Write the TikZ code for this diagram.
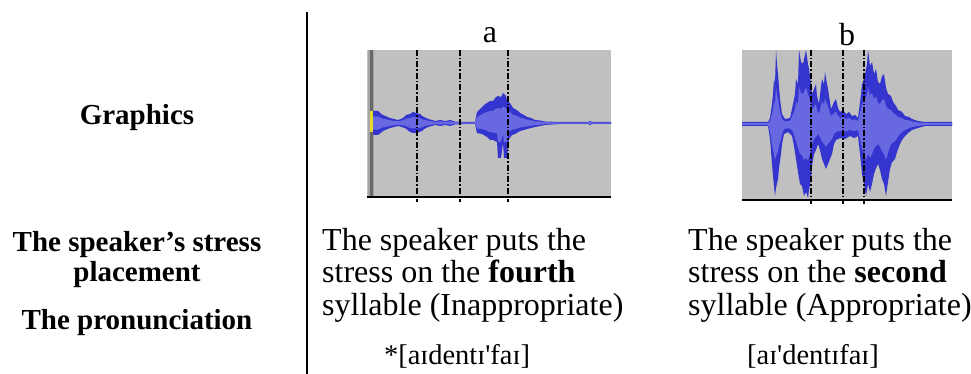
\documentclass[tikz,border=0pt]{standalone}
\usepackage{fontspec}
\setmainfont{Liberation Serif}
\definecolor{wavedark}{RGB}{52,52,206}
\definecolor{wavelight}{RGB}{104,104,224}
\definecolor{panelgray}{RGB}{192,192,192}
\definecolor{bargray}{RGB}{105,105,105}
\definecolor{cursoryellow}{RGB}{230,220,40}
\usetikzlibrary{positioning}

% envelopes, offsets from the centre line of each panel
\newcommand{\waveA}{(373,-12) -- (378,-12) -- (381,-9) -- (383,-8) -- (390,-5) -- (398,-3) -- (403,-5) -- (406,-8) -- (410,-9) -- (413,-11) -- (416,-10) -- (420,-9) -- (422,-7) -- (426,-5) -- (428,-4) -- (432,-3) -- (435,-2) -- (440,-3) -- (445,-2) -- (450,-3) -- (455,-1.5) -- (465,-1) -- (475,-1) -- (477,-11) -- (480,-14) -- (482,-16) -- (485,-19) -- (487,-20) -- (490,-22) -- (493,-22) -- (496,-26) -- (498,-27) -- (501,-26) -- (503,-30) -- (506,-27) -- (507,-22) -- (510,-20) -- (513,-15) -- (515,-14) -- (518,-12) -- (520,-10) -- (524,-8) -- (527,-6) -- (531,-5) -- (535,-3) -- (540,-2.5) -- (545,-1.5) -- (560,-1) -- (588,-1) -- (590,-2) -- (592,-1) -- (611,-1) -- (611,1) -- (592,1) -- (590,2) -- (588,1) -- (560,1) -- (545,2) -- (540,3) -- (535,4) -- (531,5) -- (527,6) -- (524,7) -- (520,8) -- (515,11) -- (512,12) -- (509,16) -- (507,35) -- (504,35) -- (503,20) -- (501,35) -- (498,35) -- (497,19) -- (493,17) -- (490,17) -- (487,14) -- (482,11) -- (477,10) -- (475,1) -- (465,1) -- (455,1.5) -- (450,3) -- (445,2) -- (440,3) -- (435,2) -- (428,4) -- (424,6) -- (422,8) -- (416,10) -- (413,10) -- (410,9) -- (405,5) -- (398,3) -- (390,5) -- (383,8) -- (378,12) -- (373,12) -- cycle}
\newcommand{\waveB}{(742,-2) -- (768,-2) -- (770,-6) -- (772,-20) -- (773,-30) -- (774,-45) -- (775,-40) -- (776,-74) -- (777,-60) -- (778,-50) -- (780,-25) -- (782,-10) -- (785,-5) -- (790,-6) -- (793,-20) -- (795,-30) -- (796,-45) -- (798,-40) -- (799,-74) -- (801,-62) -- (803,-60) -- (806,-74) -- (808,-60) -- (809,-55) -- (811,-40) -- (812,-30) -- (814,-35) -- (816,-40) -- (817,-28) -- (819,-20) -- (821,-38) -- (822,-45) -- (824,-40) -- (825,-52) -- (827,-40) -- (828,-35) -- (831,-15) -- (834,-22) -- (836,-25) -- (838,-16) -- (840,-12) -- (843,-14) -- (846,-10) -- (849,-12) -- (852,-8) -- (855,-9) -- (858,-6) -- (861,-30) -- (862,-40) -- (864,-45) -- (865,-50) -- (867,-60) -- (868,-74) -- (870,-58) -- (872,-62) -- (874,-50) -- (876,-55) -- (878,-42) -- (880,-40) -- (882,-48) -- (884,-50) -- (886,-36) -- (888,-30) -- (891,-28) -- (893,-22) -- (896,-18) -- (898,-14) -- (902,-12) -- (905,-8) -- (909,-7) -- (912,-5) -- (918,-3) -- (925,-2) -- (952,-2) -- (952,2) -- (925,2) -- (918,4) -- (912,6) -- (908,9) -- (905,12) -- (902,16) -- (900,20) -- (897,28) -- (895,35) -- (892,38) -- (890,45) -- (888,58) -- (886,72) -- (884,60) -- (882,55) -- (880,46) -- (878,40) -- (876,44) -- (874,50) -- (872,60) -- (870,68) -- (868,60) -- (866,72) -- (864,60) -- (862,50) -- (860,30) -- (858,12) -- (854,14) -- (850,12) -- (845,15) -- (840,14) -- (836,16) -- (834,20) -- (832,30) -- (830,35) -- (828,40) -- (826,45) -- (824,40) -- (822,35) -- (820,26) -- (818,20) -- (816,26) -- (814,30) -- (812,42) -- (811,55) -- (809,66) -- (808,74) -- (806,68) -- (804,72) -- (802,62) -- (800,60) -- (798,48) -- (796,35) -- (794,22) -- (792,12) -- (788,8) -- (784,10) -- (782,20) -- (781,30) -- (779,44) -- (778,55) -- (776,64) -- (775,72) -- (773,52) -- (772,40) -- (770,15) -- (768,2) -- (742,2) -- cycle}

\begin{document}
\begin{tikzpicture}[x=1pt, y=-1pt,
		rowlabel/.style={font=\fontsize{29}{30}\selectfont\bfseries, align=center},
		body/.style={font=\fontsize{32}{32.5}\selectfont, align=left, anchor=north west, inner sep=0pt},
		pron/.style={font=\fontsize{28.5}{32}\selectfont, inner sep=0pt},
		panel/.style={font=\fontsize{32}{32}\selectfont, inner sep=0pt},
		marker/.style={black, line width=1.6pt, dash pattern=on 6pt off 2pt on 1.5pt off 2pt}
	]
		\useasboundingbox (0,0) rectangle (971,374);

		% left column
		\node[rowlabel] (graphics) at (137,118) {Graphics};
		\node[rowlabel] (stresslbl) at (137,260) {The speaker’s stress\\placement};
		\node[rowlabel] (pronlbl) at (137,323) {The pronunciation};

		\coordinate (divtop) at (307,12);
		\coordinate (divbot) at (307,374);
		\draw[line width=1.5pt] (divtop) -- (divbot);

		% panel a
		\node[panel] (labela) at (490,35) {a};
		\fill[panelgray] (367,50) rectangle (611,197);
		\fill[bargray!60] (368,50) rectangle (374,197);
		\fill[bargray] (370,50) rectangle (373,197);
		\begin{scope}[shift={(0,123)}]
			\fill[wavedark] \waveA;
			\begin{scope}[yscale=0.55]
				\fill[wavelight] \waveA;
			\end{scope}
		\end{scope}
		\fill[cursoryellow] (370,111) rectangle (373,132);
		\draw[line width=1.3pt] (367,197) -- (611,197);
		\foreach \xm in {417,460,508}
			\draw[marker] (\xm,50) -- (\xm,202);

		% panel b
		\node[panel] (labelb) at (847,35) {b};
		\fill[panelgray] (742,50) rectangle (952,200);
		\begin{scope}[shift={(0,124)}]
			\fill[wavedark] \waveB;
			\begin{scope}[yscale=0.5]
				\fill[wavelight] \waveB;
			\end{scope}
		\end{scope}
		\draw[line width=1.3pt] (742,200) -- (952,200);
		\foreach \xm in {811,843,864}
			\draw[marker] (\xm,50) -- (\xm,204);

		% descriptions
		\node[body] (texta) at (322,228) {The speaker puts the\\stress on the \textbf{fourth}\\syllable (Inappropriate)};
		\node[body] (textb) at (688,228) {The speaker puts the\\stress on the \textbf{second}\\syllable (Appropriate)};

		% transcriptions
		\node[pron] (prona) at (457,356) {*[aɪdentɪ\textquotesingle faɪ]};
		\node[pron] (pronb) at (813,356) {[aɪ\textquotesingle dentɪfaɪ]};
	\end{tikzpicture}
\end{document}
